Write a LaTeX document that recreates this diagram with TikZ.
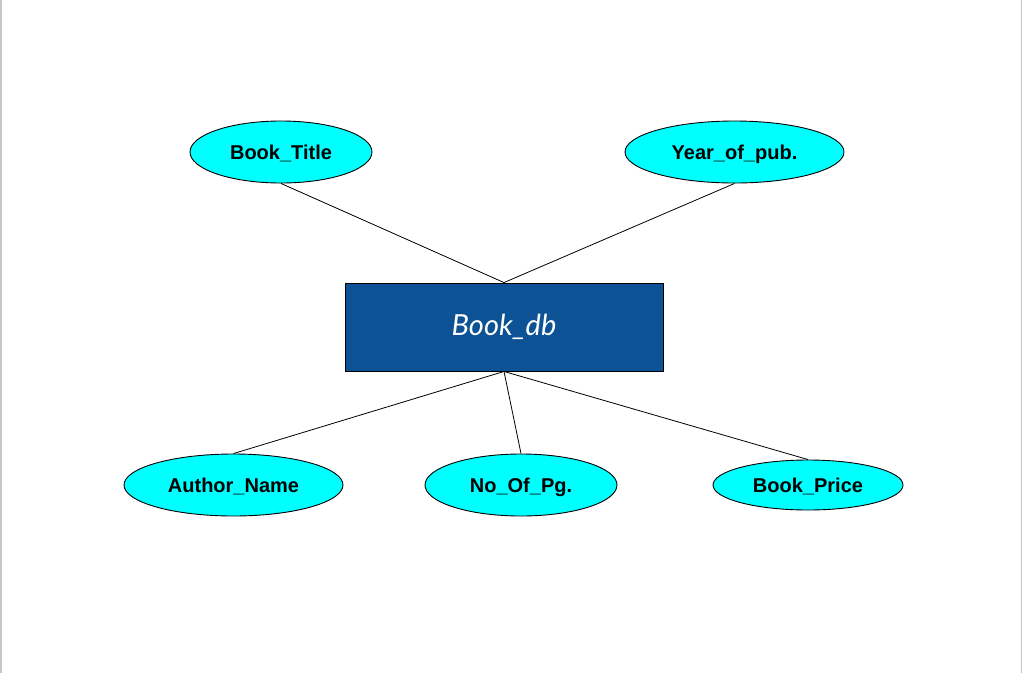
\documentclass[tikz,border=0pt]{standalone}
\usepackage{fontspec}
\setmainfont{Liberation Sans}
\newfontfamily\handfont{Lato}
\usepackage{tikz}
\usetikzlibrary{shapes.geometric}
\definecolor{attrcyan}{RGB}{0,255,255}
\definecolor{entblue}{RGB}{13,82,148}

\begin{document}
\begin{tikzpicture}[x=1pt, y=-1pt,
    attr/.style={ellipse, draw=black, fill=attrcyan, inner sep=0pt, line width=0.9pt,
                 minimum height=62pt, text depth=0pt,
                 font=\fontsize{20}{22}\selectfont\bfseries},
    entity/.style={draw=black, fill=entblue, inner sep=0pt, minimum width=318pt,
                   minimum height=88pt, text=white, line width=0.9pt,
                   font=\fontsize{29}{32}\selectfont\handfont\itshape},
    link/.style={black, line width=0.8pt}]
  \useasboundingbox (0,0) rectangle (1022,673);
  \draw[gray!45, line width=1.5pt] (0.75,0) -- (0.75,673);
  \draw[gray!45, line width=1.5pt] (1021.25,0) -- (1021.25,673);
  \node[entity] (db) at (504,327) {Book\_db};
  \node[attr, minimum width=182pt] (title) at (281,152) {Book\_Title};
  \node[attr, minimum width=219pt] (year) at (734.5,152) {Year\_of\_pub.};
  \node[attr, minimum width=219pt] (author) at (233.5,485) {Author\_Name};
  \node[attr, minimum width=192pt] (pages) at (521,485) {No\_Of\_Pg.};
  \node[attr, minimum width=190pt, minimum height=50pt] (price) at (808,485) {Book\_Price};
  \draw[link] (title.south) -- (db.north);
  \draw[link] (year.south) -- (db.north);
  \draw[link] (db.south) -- (author.north);
  \draw[link] (db.south) -- (pages.north);
  \draw[link] (db.south) -- (price.north);
\end{tikzpicture}
\end{document}
